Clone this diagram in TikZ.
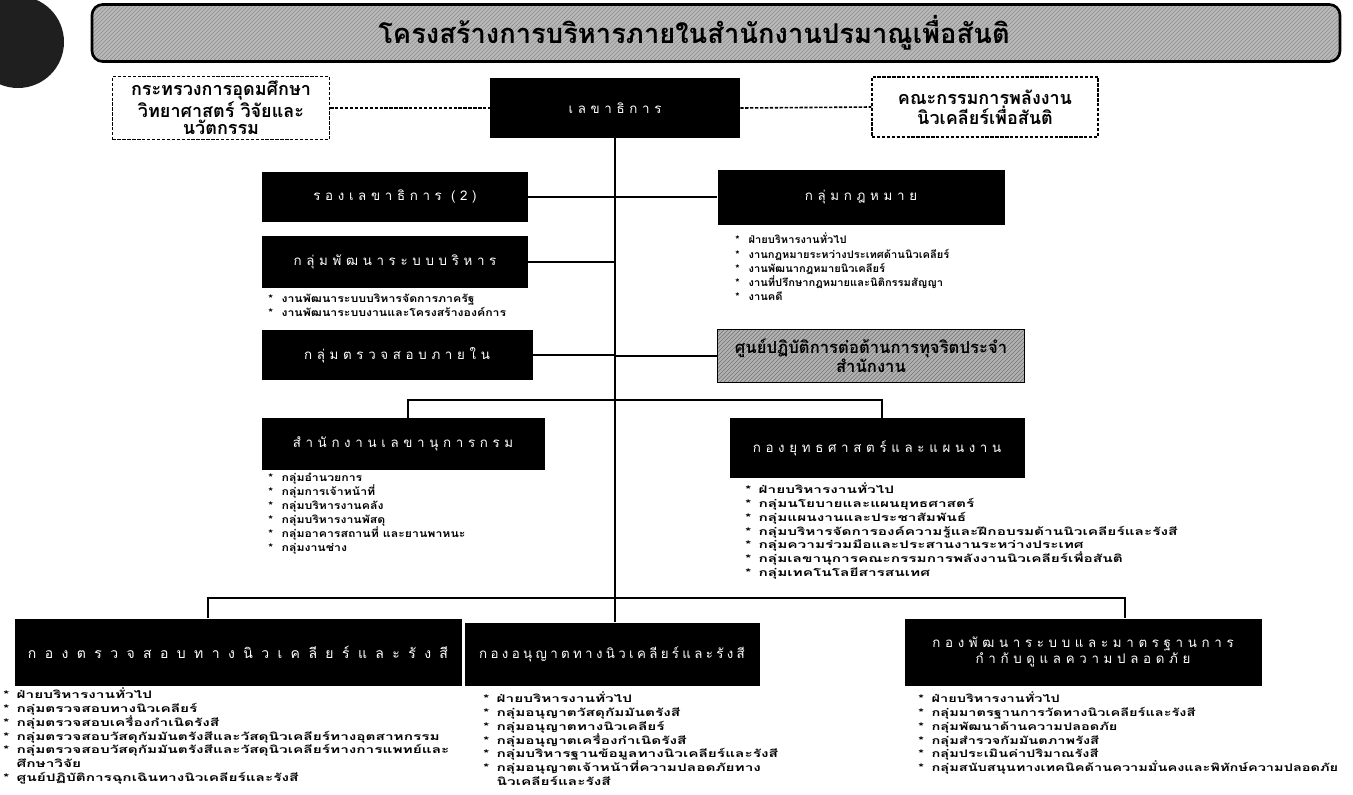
\documentclass[tikz,border=0pt]{standalone}
\usepackage{fontspec}
\setmainfont{Loma}[Script=Thai]
\newfontfamily\bulA{Loma}[Script=Thai, FakeStretch=1.07]
\newfontfamily\bulB{Loma}[Script=Thai, FakeStretch=1.18]
\newfontfamily\bulC{Loma}[Script=Thai, FakeStretch=1.48]
\newfontfamily\bulD{Loma}[Script=Thai, FakeStretch=1.40]
\newfontfamily\bxf{Loma}[Script=Thai, LetterSpace=35]
\newfontfamily\bxn{Loma}[Script=Thai, LetterSpace=25]
\newfontfamily\bxw{Loma}[Script=Thai, LetterSpace=60]
\usetikzlibrary{patterns}
\newcommand{\bli}{\makebox[10pt][l]{*}}
\newcommand{\blx}{\hspace*{10pt}}
\begin{document}
\begin{tikzpicture}[x=0.75pt,y=-0.75pt,
 bx/.style n args={2}{minimum width=#1*0.75pt, minimum height=#2*0.75pt, inner sep=0pt},
 blk/.style={fill=black, text=white, font=\bxf\fontsize{10}{12.5}\selectfont, align=center},
 dbox/.style={draw, dash pattern=on 2.5pt off 1.2pt, line width=1pt, font=\bfseries\fontsize{13.5}{13}\selectfont, align=center},
 bul/.style={anchor=north west, inner sep=0pt, align=left},
 bA/.style={bul, font=\bulA\bfseries\fontsize{7.8}{10.6}\selectfont},
 bB/.style={bul, font=\bulB\bfseries\fontsize{7.8}{10.4}\selectfont},
 bC/.style={bul, font=\bulC\bfseries\fontsize{7.8}{10.3}\selectfont},
 bD/.style={bul, font=\bulD\bfseries\fontsize{7.8}{10.3}\selectfont},
 ln/.style={line width=1.2pt},
 dln/.style={line width=1.2pt, dash pattern=on 2.5pt off 1.2pt}]
\useasboundingbox (0,0) rectangle (1353,794);
% emblem
\fill[black!88] (18,42) circle (46*0.75pt);
% title banner
\node[bx={1248}{57}, draw, line width=2pt, rounded corners=8pt,
  preaction={fill=gray!55}, pattern=north east lines, pattern color=black!45] (banner) at (716,33) {};
\node[font=\bfseries\fontsize{20.5}{21}\selectfont, inner sep=0pt] (title) at (694,33)
  {โครงสร้างการบริหารภายในสำนักงานปรมาณูเพื่อสันติ};
% top row
\node[dbox, bx={217}{63}] (mhesi) at (221,108) {กระทรวงการอุดมศึกษา\\วิทยาศาสตร์ วิจัยและ\\นวัตกรรม};
\node[blk, bx={250}{60}] (sg) at (615,108) {เลขาธิการ};
\node[dbox, bx={226}{60}] (paec) at (985,107) {คณะกรรมการพลังงาน\\นิวเคลียร์เพื่อสันติ};
\draw[dln] (mhesi.east) -- (sg.west);
\draw[dln] (sg.east) -- (paec.west);
% staff units
\node[blk, bx={266}{50}] (dep) at (395,197) {รองเลขาธิการ (2)};
\node[blk, bx={266}{52}] (psdg) at (395,262) {กลุ่มพัฒนาระบบบริหาร};
\node[blk, bx={271}{50}] (iag) at (397,355) {กลุ่มตรวจสอบภายใน};
\node[blk, bx={287}{55}] (law) at (861,197) {กลุ่มกฎหมาย};
\node[bx={307}{53}, draw, line width=1.2pt, preaction={fill=gray!60},
  pattern=north east lines, pattern color=black!55, align=center,
  font=\bfseries\fontsize{12.5}{13}\selectfont] (acc) at (871,356)
  {ศูนย์ปฏิบัติการต่อต้านการทุจริตประจำ\\สำนักงาน};
\node[bA] (lawb) at (735,233) {\bli ฝ่ายบริหารงานทั่วไป\\\bli งานกฎหมายระหว่างประเทศด้านนิวเคลียร์\\\bli งานพัฒนากฎหมายนิวเคลียร์\\\bli งานที่ปรึกษากฎหมายและนิติกรรมสัญญา\\\bli งานคดี};
\node[bB] (psdb) at (268,294) {\bli งานพัฒนาระบบบริหารจัดการภาครัฐ\\\bli งานพัฒนาระบบงานและโครงสร้างองค์การ};
% trunk
\coordinate (j2) at (sg.south |- 0,598);
\draw[ln] (sg.south) -- (j2);
\draw[ln] (dep.east) -- (dep.east -| sg.south);
\draw[ln] (psdg.east) -- (psdg.east -| sg.south);
\draw[ln] (iag.east) -- (iag.east -| sg.south);
\draw[ln] (law.west) -- (law.west -| sg.south);
\draw[ln] (acc.west) -- (acc.west -| sg.south);
% middle row
\node[blk, bx={283}{52}] (sec) at (403,444) {สำนักงานเลขานุการกรม};
\node[blk, bx={295}{60}] (str) at (877,448) {กองยุทธศาสตร์และแผนงาน};
\coordinate (m1) at (408,400);
\coordinate (m2) at (882,400);
\draw[ln] (sec.north -| m1) -- (m1) -- (m2) -- (str.north -| m2);
\node[bB] (secb) at (268,473) {\bli กลุ่มอำนวยการ\\\bli กลุ่มการเจ้าหน้าที่\\\bli กลุ่มบริหารงานคลัง\\\bli กลุ่มบริหารงานพัสดุ\\\bli กลุ่มอาคารสถานที่ และยานพาหนะ\\\bli กลุ่มงานช่าง};
\node[bC] (strb) at (745,483) {\bli ฝ่ายบริหารงานทั่วไป\\\bli กลุ่มนโยบายและแผนยุทธศาสตร์\\\bli กลุ่มแผนงานและประชาสัมพันธ์\\\bli กลุ่มบริหารจัดการองค์ความรู้และฝึกอบรมด้านนิวเคลียร์และรังสี\\\bli กลุ่มความร่วมมือและประสานงานระหว่างประเทศ\\\bli กลุ่มเลขานุการคณะกรรมการพลังงานนิวเคลียร์เพื่อสันติ\\\bli กลุ่มเทคโนโลยีสารสนเทศ};
% bottom row
\node[blk, bx={447}{67}, font=\bxw\fontsize{10.5}{12.5}\selectfont] (ins) at (238,652) {กองตรวจสอบทางนิวเคลียร์และรังสี};
\node[blk, bx={295}{63}, font=\bxn\fontsize{10}{12.5}\selectfont] (lic) at (612,654) {กองอนุญาตทางนิวเคลียร์และรังสี};
\node[blk, bx={357}{67}] (std) at (1083,652) {กองพัฒนาระบบและมาตรฐานการ\\กำกับดูแลความปลอดภัย};
\coordinate (b1) at (208,598);
\coordinate (b3) at (1125,598);
\draw[ln] (ins.north -| b1) -- (b1) -- (b3) -- (std.north -| b3);
\draw[ln] (j2) -- (lic.north -| j2);
\node[bC] (insb) at (3,688) {\bli ฝ่ายบริหารงานทั่วไป\\\bli กลุ่มตรวจสอบทางนิวเคลียร์\\\bli กลุ่มตรวจสอบเครื่องกำเนิดรังสี\\\bli กลุ่มตรวจสอบวัสดุกัมมันตรังสีและวัสดุนิวเคลียร์ทางอุตสาหกรรม\\\bli กลุ่มตรวจสอบวัสดุกัมมันตรังสีและวัสดุนิวเคลียร์ทางการแพทย์และ\\\blx ศึกษาวิจัย\\\bli ศูนย์ปฏิบัติการฉุกเฉินทางนิวเคลียร์และรังสี};
\node[bC] (licb) at (483,692) {\bli ฝ่ายบริหารงานทั่วไป\\\bli กลุ่มอนุญาตวัสดุกัมมันตรังสี\\\bli กลุ่มอนุญาตทางนิวเคลียร์\\\bli กลุ่มอนุญาตเครื่องกำเนิดรังสี\\\bli กลุ่มบริหารฐานข้อมูลทางนิวเคลียร์และรังสี\\\bli กลุ่มอนุญาตเจ้าหน้าที่ความปลอดภัยทาง\\\blx นิวเคลียร์และรังสี};
\node[bD] (stdb) at (918,692) {\bli ฝ่ายบริหารงานทั่วไป\\\bli กลุ่มมาตรฐานการวัดทางนิวเคลียร์และรังสี\\\bli กลุ่มพัฒนาด้านความปลอดภัย\\\bli กลุ่มสำรวจกัมมันตภาพรังสี\\\bli กลุ่มประเมินค่าปริมาณรังสี\\\bli กลุ่มสนับสนุนทางเทคนิคด้านความมั่นคงและพิทักษ์ความปลอดภัย};
\end{tikzpicture}
\end{document}
